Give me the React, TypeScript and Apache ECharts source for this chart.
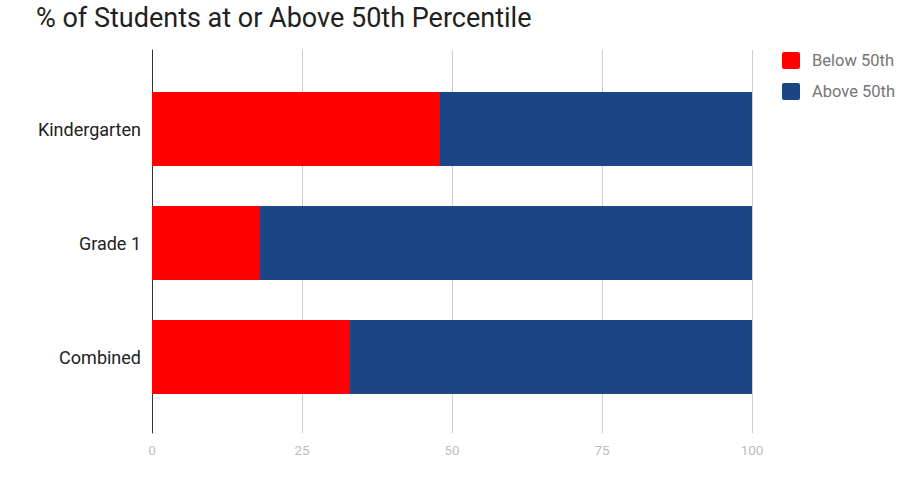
import React, { useEffect, useRef } from "react";
import * as echarts from "echarts";

const categories = ["Kindergarten", "Grade 1", "Combined"];
const below50 = [48, 18, 33];
const above50 = [52, 82, 67];
const xTicks = { min: 0, max: 100, interval: 25 };

const FONT = "Roboto, 'Noto Sans', sans-serif";
// legend swatch: square with slightly rounded corners
const SWATCH = "path://M2,0H16Q18,0 18,2V15Q18,17 16,17H2Q0,17 0,15V2Q0,0 2,0Z";

export default function App() {
  const ref = useRef<HTMLDivElement>(null);

  useEffect(() => {
    if (!ref.current) return;
    const chart = echarts.init(ref.current, null, { renderer: "svg" });
    chart.setOption({
      animation: false,
      backgroundColor: "#ffffff",
      textStyle: { fontFamily: FONT },
      title: {
        text: "% of Students at or Above 50th Percentile",
        left: 36,
        top: 4,
        padding: 0,
        textStyle: { fontFamily: FONT, fontSize: 27, fontWeight: "normal", color: "#212121" },
      },
      legend: {
        orient: "vertical",
        left: 782,
        top: 52,
        padding: 0,
        icon: SWATCH,
        itemWidth: 18,
        itemHeight: 17,
        itemGap: 14,
        textStyle: { fontFamily: FONT, fontSize: 16.5, color: "#757575", padding: [0, 0, 0, 7] },
        data: ["Below 50th", "Above 50th"],
      },
      grid: [
        // full-height grid carrying the value axis and its gridlines
        { left: 152, right: 170, top: 50, bottom: 45 },
        // inset grid for the bars, so the bands sit inside the gridlines
        { left: 152, right: 170, top: 72, bottom: 64 },
      ],
      xAxis: [
        {
          gridIndex: 0,
          type: "value",
          min: xTicks.min,
          max: xTicks.max,
          interval: xTicks.interval,
          axisLine: { show: false },
          axisTick: { show: false },
          splitLine: { show: true, lineStyle: { color: "#cccccc", width: 1 } },
          axisLabel: { color: "#bdbdbd", fontSize: 13.5, margin: 10, fontFamily: FONT },
        },
        {
          gridIndex: 1,
          type: "value",
          min: xTicks.min,
          max: xTicks.max,
          show: false,
          splitLine: { show: false },
        },
      ],
      yAxis: [
        {
          gridIndex: 0,
          type: "category",
          data: [""],
          axisLine: { show: true, lineStyle: { color: "#333333", width: 1 } },
          axisTick: { show: false },
          axisLabel: { show: false },
          splitLine: { show: false },
        },
        {
          gridIndex: 1,
          type: "category",
          inverse: true,
          data: categories,
          axisLine: { show: false },
          axisTick: { show: false },
          axisLabel: { color: "#222222", fontSize: 18, margin: 11, fontFamily: FONT },
        },
      ],
      series: [
        {
          name: "Below 50th",
          type: "bar",
          stack: "total",
          xAxisIndex: 1,
          yAxisIndex: 1,
          barWidth: 74,
          itemStyle: { color: "#ff0000" },
          data: below50,
        },
        {
          name: "Above 50th",
          type: "bar",
          stack: "total",
          xAxisIndex: 1,
          yAxisIndex: 1,
          barWidth: 74,
          itemStyle: { color: "#1c4587" },
          data: above50,
        },
      ],
    });
    return () => chart.dispose();
  }, []);

  return <div ref={ref} style={{ width: 922, height: 478, position: "absolute", left: 0, top: 0 }} />;
}
